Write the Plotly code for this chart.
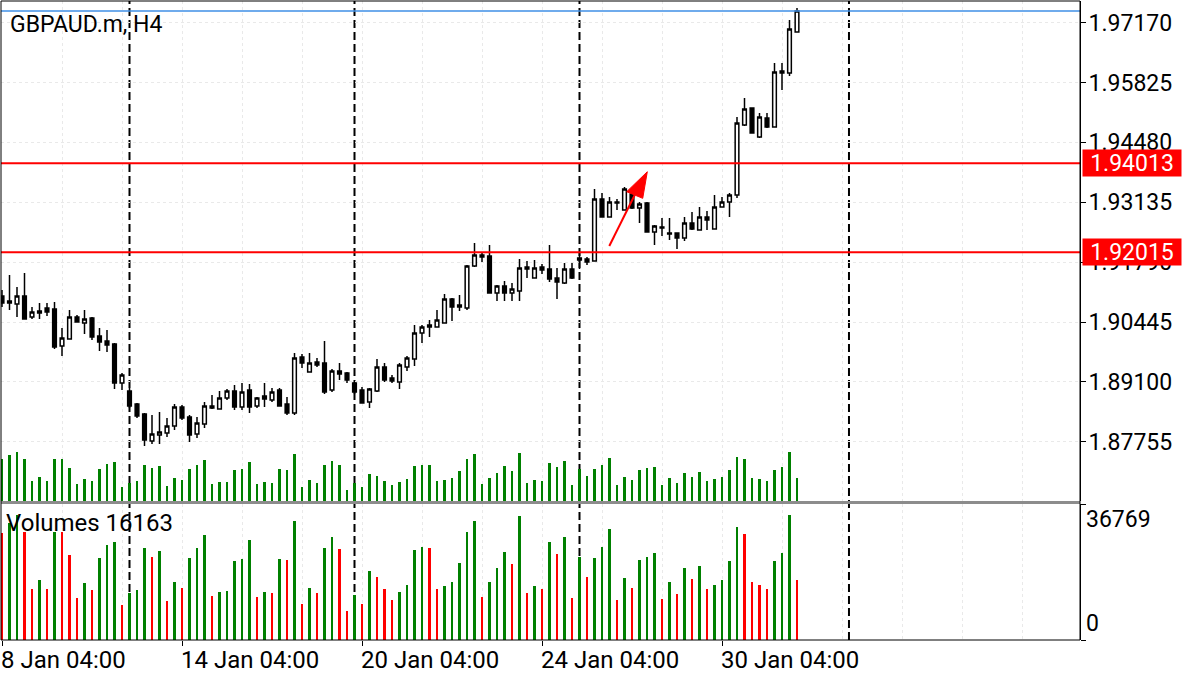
import plotly.graph_objects as go

# ---------------- data ----------------
symbol_title = "GBPAUD.m, H4"

opens = [1.91029, 1.90917, 1.90849, 1.91029, 1.90557, 1.90692, 1.90759, 1.90737, 1.89905, 1.90063,
         1.90557, 1.90422, 1.90535, 1.90130, 1.90018, 1.89950, 1.89074, 1.88894, 1.88602, 1.88377,
         1.87771, 1.87906, 1.87950, 1.88108, 1.88535, 1.88310, 1.87928, 1.88153, 1.88557, 1.88490,
         1.88737, 1.88894, 1.88535, 1.88917, 1.88557, 1.88782, 1.88692, 1.88917, 1.88602, 1.88400,
         1.89658, 1.89321, 1.89546, 1.89523, 1.88917, 1.89344, 1.89299, 1.89074, 1.88917, 1.88647,
         1.88894, 1.89434, 1.89186, 1.89096, 1.89434, 1.89613, 1.90197, 1.90377, 1.90332, 1.90422,
         1.90961, 1.90827, 1.90759, 1.91703, 1.91950, 1.91928, 1.91096, 1.91254, 1.91096, 1.91141,
         1.91680, 1.91433, 1.91680, 1.91636, 1.91433, 1.91321, 1.91636, 1.91838, 1.91860, 1.91815,
         1.93208, 1.92804, 1.93141, 1.92961, 1.93321, 1.93006, 1.93119, 1.92467, 1.92579, 1.92444,
         1.92444, 1.92332, 1.92669, 1.92512, 1.92804, 1.92534, 1.93029, 1.93141, 1.93298, 1.94871,
         1.95253, 1.94602, 1.95029, 1.94826, 1.96085, 1.96040, 1.96961]

highs = [1.91164, 1.91501, 1.91231, 1.91546, 1.90782, 1.90872, 1.90872, 1.90894, 1.90310, 1.90714,
         1.90602, 1.90714, 1.90557, 1.90310, 1.90265, 1.89973, 1.89299, 1.88962, 1.88625, 1.88400,
         1.88355, 1.88422, 1.88288, 1.88602, 1.88580, 1.88355, 1.88310, 1.88647, 1.88804, 1.88894,
         1.88939, 1.89029, 1.89074, 1.89052, 1.88759, 1.89074, 1.88962, 1.88962, 1.88759, 1.89748,
         1.89726, 1.89748, 1.89636, 1.90018, 1.89389, 1.89523, 1.89321, 1.89096, 1.88984, 1.88962,
         1.89613, 1.89523, 1.89254, 1.89523, 1.89681, 1.90377, 1.90377, 1.90490, 1.90714, 1.91074,
         1.90984, 1.91051, 1.91725, 1.92220, 1.91995, 1.92175, 1.91276, 1.91366, 1.91321, 1.91860,
         1.91815, 1.91838, 1.91748, 1.92175, 1.91658, 1.91770, 1.91770, 1.91995, 1.91905, 1.93433,
         1.93343, 1.93253, 1.93208, 1.93478, 1.93411, 1.93141, 1.93141, 1.92624, 1.92782, 1.92782,
         1.92444, 1.92804, 1.92916, 1.93029, 1.92939, 1.93298, 1.93253, 1.93343, 1.95051, 1.95478,
         1.95253, 1.95141, 1.95141, 1.96264, 1.96264, 1.97231, 1.97500]

lows = [1.90782, 1.90714, 1.90557, 1.90512, 1.90512, 1.90512, 1.90579, 1.89838, 1.89681, 1.90063,
        1.90445, 1.90175, 1.90040, 1.89793, 1.89771, 1.88939, 1.88917, 1.88512, 1.88288, 1.87658,
        1.87703, 1.87703, 1.87861, 1.88018, 1.88243, 1.87748, 1.87838, 1.88063, 1.88490, 1.88490,
        1.88692, 1.88467, 1.88467, 1.88400, 1.88512, 1.88535, 1.88647, 1.88557, 1.88355, 1.88355,
        1.89411, 1.89321, 1.89434, 1.88827, 1.88872, 1.89141, 1.89074, 1.88827, 1.88625, 1.88512,
        1.88872, 1.89096, 1.89074, 1.88939, 1.89344, 1.89456, 1.89973, 1.90108, 1.90332, 1.90422,
        1.90467, 1.90692, 1.90714, 1.91680, 1.91793, 1.91096, 1.90917, 1.90917, 1.90917, 1.90917,
        1.91433, 1.91433, 1.91523, 1.91343, 1.90961, 1.91299, 1.91411, 1.91636, 1.91725, 1.91815,
        1.92804, 1.92804, 1.92961, 1.92961, 1.92984, 1.92669, 1.92467, 1.92175, 1.92377, 1.92287,
        1.92085, 1.92265, 1.92512, 1.92512, 1.92512, 1.92534, 1.93029, 1.92804, 1.93231, 1.94849,
        1.94691, 1.94579, 1.94804, 1.94826, 1.95658, 1.95972, 1.96961]

closes = [1.90872, 1.90872, 1.91029, 1.90512, 1.90669, 1.90647, 1.90669, 1.89883, 1.90085, 1.90557,
          1.90445, 1.90512, 1.90108, 1.89995, 1.89928, 1.89074, 1.89254, 1.88557, 1.88332, 1.87793,
          1.87928, 1.87973, 1.88108, 1.88535, 1.88288, 1.87906, 1.88175, 1.88557, 1.88512, 1.88737,
          1.88894, 1.88535, 1.88872, 1.88535, 1.88737, 1.88714, 1.88872, 1.88557, 1.88400, 1.89636,
          1.89523, 1.89523, 1.89478, 1.88872, 1.89344, 1.89276, 1.89141, 1.88872, 1.88625, 1.88939,
          1.89434, 1.89141, 1.89119, 1.89478, 1.89636, 1.90197, 1.90332, 1.90332, 1.90490, 1.90961,
          1.90782, 1.90782, 1.91703, 1.91950, 1.91905, 1.91096, 1.91254, 1.91096, 1.91186, 1.91658,
          1.91636, 1.91658, 1.91613, 1.91411, 1.91343, 1.91636, 1.91433, 1.91883, 1.91793, 1.93208,
          1.92804, 1.93141, 1.93119, 1.93433, 1.93006, 1.93096, 1.92467, 1.92602, 1.92557, 1.92422,
          1.92332, 1.92669, 1.92534, 1.92804, 1.92737, 1.93029, 1.93141, 1.93298, 1.94916, 1.95231,
          1.94691, 1.95051, 1.94826, 1.96062, 1.96040, 1.97028, 1.97433]

volumes = [28840, 31600, 33890, 29290, 13700, 16220, 13700, 29290, 29110, 22980,
           11450, 15500, 13520, 22080, 25600, 26590, 9370, 12620, 13520, 24790,
           22530, 24070, 10640, 15770, 14150, 22080, 24790, 28480, 11900, 12980,
           13250, 21360, 21990, 27040, 11630, 12980, 12620, 21810, 21700, 32180,
           9640, 14150, 12620, 24790, 27850, 24610, 7840, 12170, 9640, 18750,
           16950, 13880, 10910, 12980, 14870, 24340, 25060, 24790, 13880, 14600,
           15770, 20730, 29110, 32180, 11630, 15770, 19470, 23800, 20550, 33440,
           12620, 14600, 13880, 26500, 23250, 27850, 11360, 22350, 16950, 22260,
           25060, 29920, 10910, 16670, 14150, 21540, 22440, 23610, 11090, 15680,
           12350, 19470, 16490, 20010, 13700, 14870, 16220, 21270, 30650, 28660,
           15770, 14870, 13700, 21270, 23610, 33890, 16163]

time_tick_bars = [0, 24, 48, 72, 96]
time_tick_labels = ["8 Jan 04:00", "14 Jan 04:00", "20 Jan 04:00", "24 Jan 04:00", "30 Jan 04:00"]
price_ticks = [1.87755, 1.89100, 1.90445, 1.91790, 1.93135, 1.94480, 1.95825, 1.97170]
level_prices = [1.94013, 1.92015]
bid_price = 1.97433
week_separator_bars = [17, 47, 77, 112.93]
volume_axis_max = 36769
arrow_start = (80.97, 1.92152)
arrow_head = [(86.04, 1.93822), (83.29, 1.93373), (85.43, 1.93224)]

# ---------------- styling / layout constants ----------------
FONT = "Roboto"
FS = 23
W, H = 1200, 675
ML, MR, MT, MB = 1, 120, 1, 35
PLOT_H = H - MT - MB            # 639
MAIN_BOTTOM = (640 - 501) / PLOT_H
SUB_TOP = 136 / PLOT_H
X_RANGE = [-0.1333, 143.733]
PRICE_RANGE = [1.86423, 1.97658]
MAIN_VOL_RANGE = [0, 344830]
GREEN = "#008000"
RED = "#FF0000"
GRID = "#e9e9e9"

x_idx = list(range(len(opens)))
vol_colors = [RED if (i == 0 or volumes[i] < volumes[i - 1]) else GREEN for i in range(len(volumes))]

fig = go.Figure()

# tick volumes drawn inside main chart
fig.add_trace(go.Bar(x=x_idx, y=volumes, width=0.27, marker=dict(color=GREEN, line=dict(width=0)),
                     xaxis="x", yaxis="y3", showlegend=False, hoverinfo="skip"))

fig.add_trace(go.Candlestick(
    x=x_idx, open=opens, high=highs, low=lows, close=closes,
    increasing=dict(line=dict(color="black", width=1.5), fillcolor="white"),
    decreasing=dict(line=dict(color="black", width=1.5), fillcolor="black"),
    whiskerwidth=0, xaxis="x", yaxis="y", showlegend=False))

# volumes sub-window
fig.add_trace(go.Bar(x=x_idx, y=volumes, width=0.27, marker=dict(color=vol_colors, line=dict(width=0)),
                     xaxis="x", yaxis="y2", showlegend=False))

shapes = []
for xb in week_separator_bars:
    shapes.append(dict(type="line", xref="x", yref="paper", x0=xb, x1=xb, y0=0, y1=1,
                       line=dict(color="black", width=2, dash="8px,4px"), layer="below"))
for lp in level_prices:
    shapes.append(dict(type="line", xref="paper", yref="y", x0=0, x1=1, y0=lp, y1=lp,
                       line=dict(color=RED, width=2), layer="above"))
shapes.append(dict(type="line", xref="paper", yref="y", x0=0, x1=1, y0=bid_price, y1=bid_price,
                   line=dict(color="#3f8fe6", width=1.5), layer="above"))
# panel separator
shapes.append(dict(type="rect", xref="paper", yref="paper", x0=0, x1=1, y0=SUB_TOP, y1=MAIN_BOTTOM,
                   fillcolor="#8c8c8c", line=dict(width=0), layer="above"))
# frame
shapes.append(dict(type="rect", xref="paper", yref="paper", x0=0, x1=1, y0=0, y1=1,
                   line=dict(color="black", width=1), fillcolor="rgba(0,0,0,0)", layer="above"))
# arrow
tip, b1, b2 = arrow_head
mid = ((b1[0] + b2[0]) / 2, (b1[1] + b2[1]) / 2)
shapes.append(dict(type="line", xref="x", yref="y", x0=arrow_start[0], y0=arrow_start[1],
                   x1=mid[0], y1=mid[1], line=dict(color=RED, width=2), layer="above"))
shapes.append(dict(type="path", xref="x", yref="y",
                   path=f"M {tip[0]},{tip[1]} L {b1[0]},{b1[1]} L {b2[0]},{b2[1]} Z",
                   fillcolor=RED, line=dict(color=RED, width=1), layer="above"))

annotations = []
annotations.append(dict(text=symbol_title, xref="paper", yref="paper", x=7 / 1079, y=(640 - 25) / PLOT_H,
                        xanchor="left", yanchor="middle", showarrow=False,
                        font=dict(family=FONT, size=FS, color="black")))
annotations.append(dict(text=f"Volumes {volumes[-1]}", xref="paper", yref="paper", x=3 / 1079,
                        y=(640 - 523) / PLOT_H, xanchor="left", yanchor="middle", showarrow=False,
                        font=dict(family=FONT, size=FS + 1, color="black")))
for xb, lab in zip(time_tick_bars, time_tick_labels):
    annotations.append(dict(text=lab, xref="x", yref="paper", x=xb, y=(640 - 660) / PLOT_H,
                            xanchor="left", yanchor="middle", showarrow=False, xshift=-3,
                            font=dict(family=FONT, size=FS + 1, color="black")))
annotations.append(dict(text=f"{volume_axis_max}", xref="paper", yref="y2", x=1, xshift=4,
                        y=volume_axis_max, xanchor="left", yanchor="top", yshift=0, showarrow=False,
                        font=dict(family=FONT, size=FS, color="black")))
annotations.append(dict(text="0", xref="paper", yref="y2", x=1, xshift=4, y=0,
                        xanchor="left", yanchor="bottom", yshift=1, showarrow=False,
                        font=dict(family=FONT, size=FS, color="black")))
for lp in level_prices:
    annotations.append(dict(text=f"{lp:.5f}", xref="paper", yref="y", x=1, xshift=2, y=lp,
                            xanchor="left", yanchor="middle", showarrow=False, bgcolor=RED,
                            width=96, height=24, borderpad=1, align="center",
                            font=dict(family=FONT, size=FS, color="white")))

fig.update_layout(
    width=W, height=H, margin=dict(l=ML, r=MR, t=MT, b=MB),
    paper_bgcolor="white", plot_bgcolor="white", showlegend=False,
    font=dict(family=FONT, size=FS, color="black"),
    bargap=0,
    xaxis=dict(domain=[0, 1], range=X_RANGE, anchor="y2", rangeslider=dict(visible=False),
               tickmode="array", tickvals=time_tick_bars, ticks="outside", ticklen=5,
               tickcolor="black", tickwidth=1, showticklabels=False, showline=False,
               zeroline=False, showgrid=True, gridcolor=GRID, griddash="dot", gridwidth=1,
               minor=dict(dtick=8, tick0=0, showgrid=True, gridcolor=GRID, griddash="dot", ticks=""),
               fixedrange=True),
    yaxis=dict(domain=[MAIN_BOTTOM, 1], range=PRICE_RANGE, side="right", anchor="x",
               tickmode="array", tickvals=price_ticks, ticktext=[f"{p:.5f}" for p in price_ticks],
               ticks="outside", ticklen=5, tickcolor="black", showline=True, linecolor="black",
               linewidth=1, showgrid=True, gridcolor=GRID, griddash="dot", zeroline=False,
               ticklabelstandoff=-2,
               tickfont=dict(family=FONT, size=FS, color="black"), fixedrange=True),
    yaxis2=dict(domain=[0, SUB_TOP], range=[0, volume_axis_max], side="right", anchor="x",
                tickmode="array", tickvals=[0, volume_axis_max], ticks="outside", ticklen=5,
                tickcolor="black", showticklabels=False, showline=True, linecolor="black",
                showgrid=False, zeroline=False, fixedrange=True),
    yaxis3=dict(overlaying="y", range=MAIN_VOL_RANGE, visible=False, fixedrange=True),
    shapes=shapes, annotations=annotations,
)

fig.write_html("out.html", config={"displayModeBar": False},
               post_script="document.body.style.margin='0';")
